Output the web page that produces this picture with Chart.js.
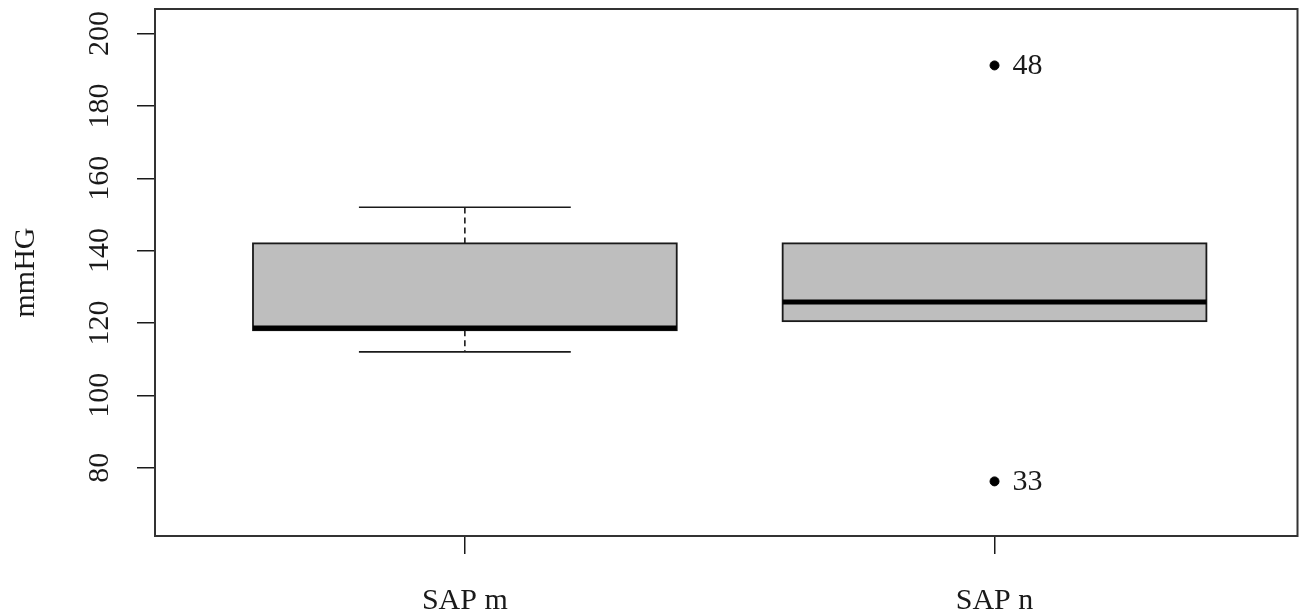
<!DOCTYPE html>
<html>
<head>
<meta charset="utf-8">
<script src="https://cdn.jsdelivr.net/npm/chart.js@4"></script>
<style>
  html, body { margin: 0; padding: 0; background: #fff; overflow: hidden; }
  canvas { display: block; }
</style>
</head>
<body>
<canvas id="boxChart" width="1303" height="614"></canvas>
<script>
// --- data ---
const categories = ['SAP m', 'SAP n'];
const whiskerLow = [112, 120.5];
const q1 = [118, 120.5];
const median = [118.6, 125.8];
const q3 = [142, 142];
const whiskerHigh = [152, 142];
const outlierGroup = [2, 2];
const outlierValues = [191.2, 76.2];
const outlierLabels = ['48', '33'];
const yTicks = [80, 100, 120, 140, 160, 180, 200];

const FONT = 'Liberation Serif';
const INK = '#1a1a1a';

Chart.defaults.font.family = FONT;
Chart.defaults.color = INK;

// boxes, whiskers and the frame round the plot
const boxPlugin = {
    id: 'boxPlugin',
    beforeDatasetsDraw(chart) {
        const { ctx, scales: { x, y } } = chart;
        ctx.save();
        categories.forEach((cat, i) => {
            const c = i + 1;
            const left = x.getPixelForValue(c - 0.4);
            const right = x.getPixelForValue(c + 0.4);
            const capL = x.getPixelForValue(c - 0.2);
            const capR = x.getPixelForValue(c + 0.2);
            const cx = x.getPixelForValue(c);

            ctx.strokeStyle = INK;
            ctx.lineWidth = 1.6;
            // whisker + staple, only where it sticks out of the box
            [[q3[i], whiskerHigh[i]], [q1[i], whiskerLow[i]]].forEach(([edge, end]) => {
                if (edge === end) return;
                ctx.setLineDash([6, 4]);
                ctx.beginPath();
                ctx.moveTo(cx, y.getPixelForValue(edge));
                ctx.lineTo(cx, y.getPixelForValue(end));
                ctx.stroke();
                ctx.setLineDash([]);
                ctx.beginPath();
                ctx.moveTo(capL, y.getPixelForValue(end));
                ctx.lineTo(capR, y.getPixelForValue(end));
                ctx.stroke();
            });

            // box
            const top = y.getPixelForValue(q3[i]);
            const bot = y.getPixelForValue(q1[i]);
            ctx.fillStyle = '#bebebe';
            ctx.fillRect(left, top, right - left, bot - top);
            ctx.lineWidth = 1.8;
            ctx.strokeRect(left, top, right - left, bot - top);

            // median
            ctx.lineWidth = 5;
            ctx.strokeStyle = '#000';
            ctx.beginPath();
            ctx.moveTo(left, y.getPixelForValue(median[i]));
            ctx.lineTo(right, y.getPixelForValue(median[i]));
            ctx.stroke();
        });
        ctx.restore();
    },
    afterDatasetsDraw(chart) {
        const { ctx, chartArea, scales: { x, y } } = chart;
        ctx.save();
        // outlier ids
        ctx.font = `30px "${FONT}"`;
        ctx.fillStyle = INK;
        ctx.textAlign = 'left';
        ctx.textBaseline = 'middle';
        outlierValues.forEach((v, i) => {
            ctx.fillText(outlierLabels[i], x.getPixelForValue(outlierGroup[i]) + 18, y.getPixelForValue(v) + 1);
        });
        // frame
        ctx.strokeStyle = '#333';
        ctx.lineWidth = 2;
        ctx.strokeRect(chartArea.left, chartArea.top, chartArea.right - chartArea.left, chartArea.bottom - chartArea.top);
        ctx.restore();
    }
};

new Chart(document.getElementById('boxChart'), {
    type: 'scatter',
    data: {
        datasets: [{
            label: 'outliers',
            data: outlierValues.map((v, i) => ({ x: outlierGroup[i], y: v })),
            backgroundColor: '#000',
            borderColor: '#000',
            pointRadius: 4.5,
            pointHoverRadius: 4.5
        }]
    },
    options: {
        responsive: false,
        animation: false,
        layout: { padding: { top: 9, right: 3, left: 0, bottom: 0 } },
        plugins: {
            legend: { display: false },
            tooltip: { enabled: false }
        },
        scales: {
            x: {
                type: 'linear',
                min: 0.415,
                max: 2.572,
                afterBuildTicks: (scale) => { scale.ticks = categories.map((c, i) => ({ value: i + 1 })); },
                afterFit: (scale) => {
                    scale.height = 78;
                    scale.paddingLeft = 0;
                    scale.paddingRight = 0;
                },
                ticks: {
                    callback: (v) => categories[v - 1],
                    font: { size: 30 },
                    padding: 29,
                    maxRotation: 0,
                    autoSkip: false
                },
                grid: { drawOnChartArea: false, drawTicks: true, tickLength: 18, color: INK, lineWidth: 1.5 },
                border: { display: false }
            },
            y: {
                min: 61.1,
                max: 206.8,
                afterBuildTicks: (scale) => { scale.ticks = yTicks.map(v => ({ value: v })); },
                afterFit: (scale) => {
                    scale.width = 155;
                    scale.paddingTop = 0;
                    scale.paddingBottom = 0;
                },
                ticks: {
                    font: { size: 30 },
                    minRotation: 90,
                    maxRotation: 90,
                    crossAlign: 'center',
                    padding: 14
                },
                grid: { drawOnChartArea: false, drawTicks: true, tickLength: 18, color: INK, lineWidth: 1.5 },
                border: { display: false },
                title: {
                    display: true,
                    text: 'mmHG',
                    font: { size: 30 },
                    color: INK,
                    padding: { top: 8, bottom: 0 }
                }
            }
        }
    },
    plugins: [boxPlugin]
});
</script>
</body>
</html>
